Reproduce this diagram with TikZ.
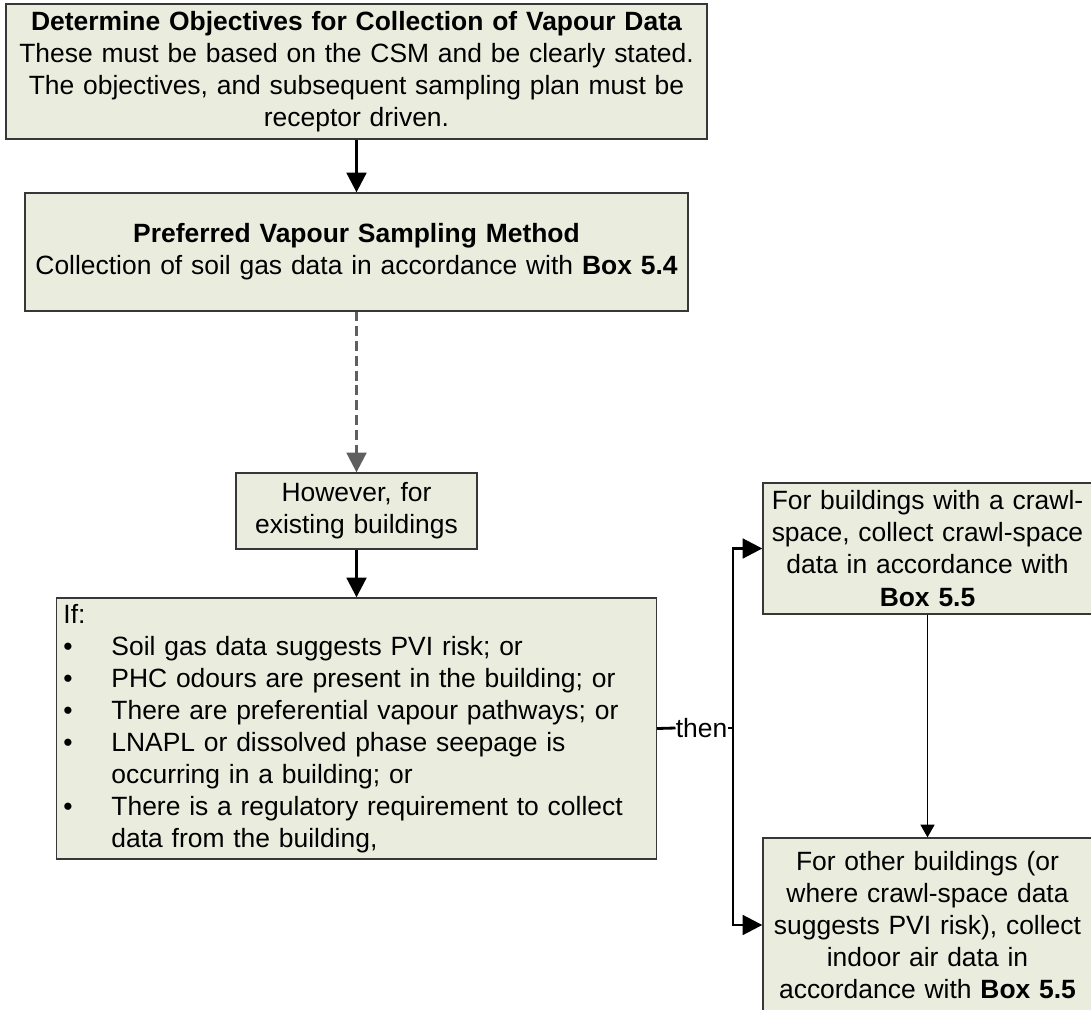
\documentclass[tikz,border=0pt]{standalone}
\usepackage{fontspec}
\setmainfont{Liberation Sans}
\usetikzlibrary{arrows.meta}
\definecolor{boxfill}{RGB}{234,237,222}
\definecolor{boxline}{RGB}{55,55,55}
\definecolor{dashgrey}{RGB}{95,95,95}
\newcommand{\boxfont}{\fontsize{18.8pt}{22.8pt}\selectfont}
\tikzstyle{arrow} = [line width=2pt,-{Triangle[length=14pt,width=14pt]}]
\tikzstyle{thinarrow} = [line width=0.75pt,-{Triangle[length=9pt,width=10pt]}]
\tikzstyle{dasharrow} = [arrow, draw=dashgrey, dash pattern=on 7pt off 3.5pt]
\tikzstyle{stage} = [rectangle, draw=boxline, line width=0.9pt, fill=boxfill, inner sep=2pt, align=center, font=\boxfont]

\begin{document}
\begin{tikzpicture}[x=0.025cm, y=-0.025cm]
\path[use as bounding box, clip] (0,0) rectangle (1091,1010);

% Main Boxes
\node (objectives) [stage, minimum width=17.525cm, minimum height=3.375cm, text width=17.2cm] at (356.5,71.5) {\textbf{Determine Objectives for Collection of Vapour Data}\\These must be based on the CSM and be clearly stated.\\The objectives, and subsequent sampling plan must be\\receptor driven.};
\node (preferred) [stage, minimum width=16.575cm, minimum height=2.95cm, text width=16.3cm] at (356.5,252) {\textbf{Preferred Vapour Sampling Method}\\Collection of soil gas data in accordance with \textbf{Box 5.4}};
\node (however) [stage, minimum width=6.025cm, minimum height=1.9cm, text width=5.8cm] at (356.5,511) {However, for\\existing buildings};
\node (conditions) [stage, align=left, minimum width=15cm, minimum height=6.525cm, text width=14.65cm, inner xsep=0.175cm] at (356.5,728.5) {If:\\
\makebox[1.2cm][l]{\textbullet}Soil gas data suggests PVI risk; or\\
\makebox[1.2cm][l]{\textbullet}PHC odours are present in the building; or\\
\makebox[1.2cm][l]{\textbullet}There are preferential vapour pathways; or\\
\makebox[1.2cm][l]{\textbullet}LNAPL or dissolved phase seepage is\\
\hspace*{1.2cm}occurring in a building; or\\
\makebox[1.2cm][l]{\textbullet}There is a regulatory requirement to collect\\
\hspace*{1.2cm}data from the building,};

% Right hand boxes
\node (crawl) [stage, minimum width=8.225cm, minimum height=3.275cm, text width=7.9cm] at (927.5,548.5) {For buildings with a crawl-\\space, collect crawl-space\\data in accordance with\\\textbf{Box 5.5}};
\node (indoor) [stage, minimum width=8.225cm, minimum height=4.35cm, text width=7.9cm] at (927.5,925) {For other buildings (or\\where crawl-space data\\suggests PVI risk), collect\\indoor air data in\\accordance with \textbf{Box 5.5}};

% Split
\node (then) [font=\boxfont, inner sep=0pt] at (701.5,728) {then};
\coordinate (split) at (733,728);

% Connections
\draw [arrow] (objectives) -- (preferred);
\draw [dasharrow] (preferred) -- (however);
\draw [arrow] (however) -- (conditions);
\draw [line width=2pt] (conditions.east) -- (then.west);
\draw [line width=2pt] (then.east) -- (split);
\draw [arrow] (split) |- (crawl.west);
\draw [arrow] (split) |- (indoor.west);
\draw [thinarrow] (crawl) -- (indoor);

\end{tikzpicture}
\end{document}
